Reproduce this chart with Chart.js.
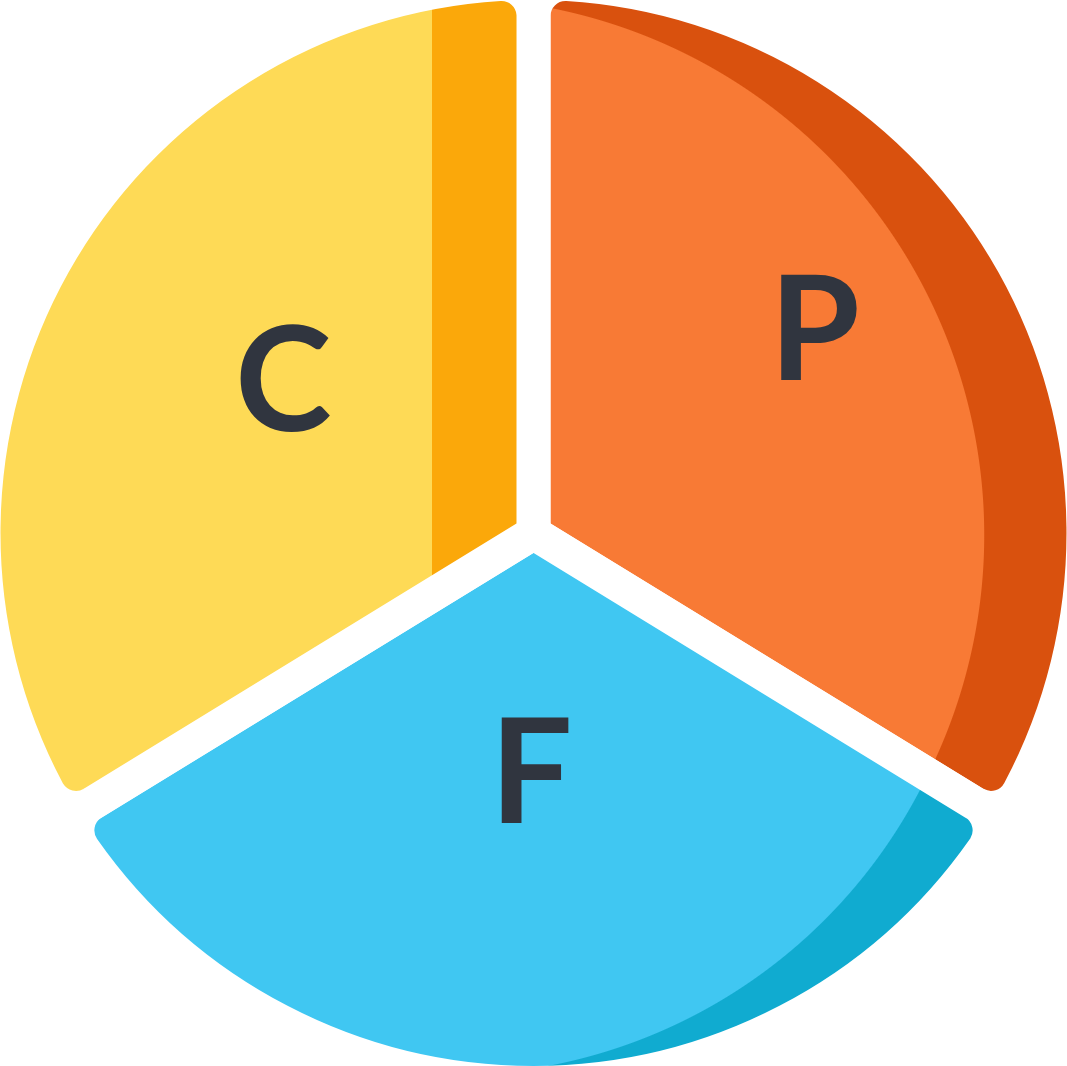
<!DOCTYPE html>
<html>
<head>
<meta charset="utf-8">
<script src="https://cdn.jsdelivr.net/npm/chart.js@4.4.0/dist/chart.umd.min.js"></script>
<style>
html,body{margin:0;padding:0;background:#ffffff;}
#wrap{width:1067px;height:1066px;position:relative;}
</style>
</head>
<body>
<div id="wrap"><canvas id="c"></canvas></div>
<script>
// Data (shares of the circle, in percent)
const categories = ['P', 'F', 'C'];
const values = [33.75, 32.5, 33.75];
const lightColors = ['#F87A35', '#40C7F2', '#FEDA56'];
const darkColors = ['#D9510E', '#10ABD0', '#FBA80A'];

const GAP_HALF = 17;      // half of the white gap
const VISIBLE_R = 533;    // visible outer radius

// shading geometry (fractions of the radius, relative to centre)
const shade = {
  C: { type: 'line', x: -0.1904 },
  P: { type: 'circle', x: -0.1623, y: 0.004, r: 1.007 },
  F: { type: 'circle', x: -0.1574, y: 0.0218, r: 0.9944 }
};

function centerOf(chart) {
  const a = chart.chartArea;
  return { x: (a.left + a.right) / 2, y: (a.top + a.bottom) / 2 };
}

function sliceFill(context) {
  const chart = context.chart;
  const i = context.dataIndex;
  if (!chart.chartArea) return lightColors[i];
  const c = centerOf(chart);
  const R = VISIBLE_R;
  const ctx = chart.ctx;
  const s = shade[categories[i]];
  if (s.type === 'line') {
    const x0 = c.x + s.x * R;
    const g = ctx.createLinearGradient(x0 - 1, 0, x0 + 1, 0);
    g.addColorStop(0, lightColors[i]);
    g.addColorStop(0.5, lightColors[i]);
    g.addColorStop(0.5, darkColors[i]);
    g.addColorStop(1, darkColors[i]);
    return g;
  }
  const gx = c.x + s.x * R, gy = c.y + s.y * R, gr = s.r * R;
  const g = ctx.createRadialGradient(gx, gy, 0, gx, gy, gr + 1);
  const t = gr / (gr + 1);
  g.addColorStop(0, lightColors[i]);
  g.addColorStop(t, lightColors[i]);
  g.addColorStop(1, darkColors[i]);
  return g;
}

const letterPlugin = {
  id: 'letters',
  afterDatasetsDraw(chart, args, opts) {
    const ctx = chart.ctx;
    const c = centerOf(chart);
    const R = VISIBLE_R;
    ctx.save();
    ctx.fillStyle = opts.color;
    ctx.font = opts.font;
    ctx.textAlign = 'left';
    ctx.textBaseline = 'alphabetic';
    categories.forEach((lab) => {
      const p = opts.anchors[lab];
      const m = ctx.measureText(lab);
      const w = m.actualBoundingBoxLeft + m.actualBoundingBoxRight;
      const h = m.actualBoundingBoxAscent + m.actualBoundingBoxDescent;
      const px = c.x + p[0] * R, py = c.y + p[1] * R;
      const x = px - w / 2 + m.actualBoundingBoxLeft;
      const y = py - h / 2 + m.actualBoundingBoxAscent;
      ctx.fillText(lab, x, y);
    });
    ctx.restore();
  }
};

new Chart(document.getElementById('c'), {
  type: 'pie',
  data: {
    labels: categories,
    datasets: [{
      data: values,
      backgroundColor: sliceFill,
      borderColor: '#ffffff',
      borderWidth: GAP_HALF * 2,
      borderAlign: 'center',
      borderRadius: 32,
      hoverOffset: 0
    }]
  },
  options: {
    responsive: true,
    maintainAspectRatio: false,
    animation: false,
    radius: VISIBLE_R + GAP_HALF,
    layout: { padding: 0 },
    events: [],
    plugins: {
      legend: { display: false },
      tooltip: { enabled: false },
      letters: {
        color: '#30353F',
        font: 'bold 146px Lato',
        anchors: { C: [-0.4662, -0.2917], P: [0.5356, -0.3874], F: [0.0028, 0.4447] }
      }
    }
  },
  plugins: [letterPlugin]
});
</script>
</body>
</html>
